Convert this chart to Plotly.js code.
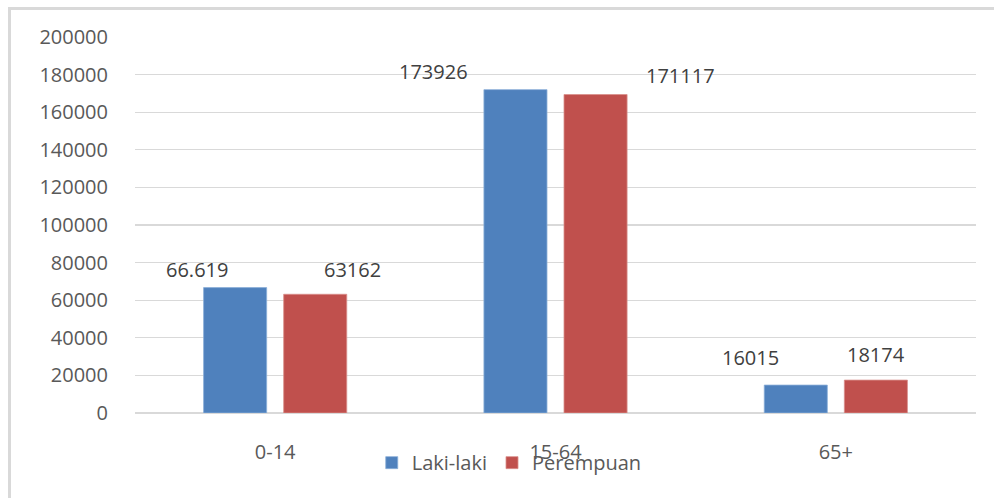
<!DOCTYPE html>
<html>
<head>
<meta charset="utf-8">
<script src="https://cdn.plot.ly/plotly-3.0.1.min.js"></script>
<style>
  html, body { margin: 0; padding: 0; background: #fff; }
  #wrap { position: relative; width: 994px; height: 498px; overflow: hidden; }
  #chart { position: absolute; left: 0; top: 0; width: 994px; height: 498px; }
  #frame { position: absolute; left: 8px; top: 7px; width: 1000px; height: 520px;
           border: 3px solid #d9d9d9; pointer-events: none; box-sizing: border-box; }
</style>
</head>
<body>
<div id="wrap">
  <div id="chart"></div>
  <div id="frame"></div>
</div>
<script>
// ---- data ----
const categories = ["0-14", "15-64", "65+"];
const seriesNames = ["Laki-laki", "Perempuan"];
const lakiValues = [66700, 172000, 14850];
const perempuanValues = [63150, 169400, 17500];
const lakiLabels = ["66.619", "173926", "16015"];
const perempuanLabels = ["63162", "171117", "18174"];
const yTicks = [0, 20000, 40000, 60000, 80000, 100000, 120000, 140000, 160000, 180000, 200000];

// ---- styling / placement (not data) ----
const colors = ["#4F81BD", "#C0504D"];
const labelXShift = [[-78, -122, -85], [77, 125, 40]];
const labelYShift = [[18, 18, 28], [25, 19, 26]];
const FONT = "Open Sans, sans-serif";
const FS = 20;

const valuesBySeries = [lakiValues, perempuanValues];
const labelsBySeries = [lakiLabels, perempuanLabels];

const traces = seriesNames.map((name, i) => ({
  type: "bar",
  name: name,
  x: categories,
  y: valuesBySeries[i],
  marker: { color: colors[i], line: { color: i === 0 ? "#8aaed8" : "#d98f8c", width: 0.8 } },
  hoverinfo: "skip"
}));

const annotations = [];
seriesNames.forEach((name, i) => {
  categories.forEach((c, j) => {
    annotations.push({
      xref: "x", yref: "y",
      x: c, y: valuesBySeries[i][j],
      text: labelsBySeries[i][j],
      showarrow: false,
      xanchor: "center", yanchor: "middle",
      xshift: labelXShift[i][j], yshift: labelYShift[i][j],
      font: { family: FONT, size: FS, color: "#404040" }
    });
  });
});

const layout = {
  width: 994, height: 498,
  margin: { l: 135, r: 18, t: 37, b: 85, pad: 0 },
  paper_bgcolor: "#ffffff", plot_bgcolor: "#ffffff",
  barmode: "group",
  bargap: 0.4286,
  bargroupgap: 0.2125,
  showlegend: true,
  legend: {
    orientation: "h",
    x: 0.445, xanchor: "center",
    y: -0.132, yanchor: "middle",
    font: { family: FONT, size: FS, color: "#595959" },
    itemwidth: 30,
    tracegroupgap: 0,
    bgcolor: "rgba(0,0,0,0)"
  },
  xaxis: {
    type: "category",
    showgrid: false, zeroline: false, showline: false,
    ticks: "outside", ticklen: 21, tickcolor: "rgba(0,0,0,0)",
    tickfont: { family: FONT, size: FS, color: "#595959" },
    fixedrange: true
  },
  yaxis: {
    range: [0, 200000],
    tickmode: "array",
    tickvals: yTicks,
    ticktext: yTicks.map(v => String(v)),
    showgrid: true, gridcolor: "#d9d9d9", gridwidth: 1.3,
    zeroline: true, zerolinecolor: "#d9d9d9", zerolinewidth: 1.3,
    showline: false,
    ticks: "outside", ticklen: 22, tickcolor: "rgba(0,0,0,0)",
    tickfont: { family: FONT, size: FS, color: "#595959" },
    fixedrange: true
  },
  annotations: annotations
};

Plotly.newPlot("chart", traces, layout, { displayModeBar: false, staticPlot: true });
</script>
</body>
</html>
